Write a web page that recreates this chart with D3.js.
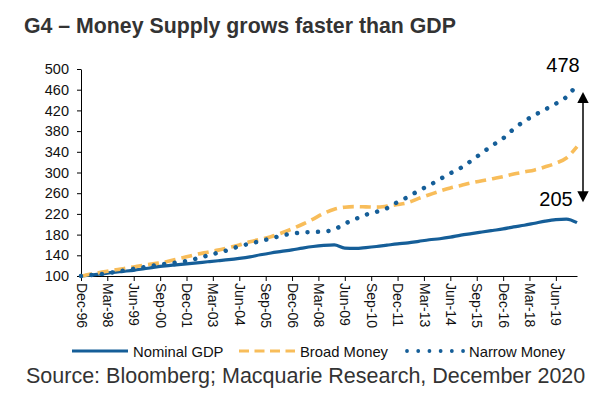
<!DOCTYPE html>
<html>
<head>
<meta charset="utf-8">
<script src="https://cdn.jsdelivr.net/npm/d3@7"></script>
<style>
  body { margin: 0; background: #fff; }
  svg { display: block; font-family: "Liberation Sans", Arial, sans-serif; }
</style>
</head>
<body>
<div id="chart"></div>
<script>
const width = 601;
const height = 399;

// half-yearly points, Dec-96 .. Jun-20 (index, Dec-96 = 100)
const periods = d3.timeMonths(new Date(1996, 11, 1), new Date(2020, 6, 1), 6);

const nominalGdp = [100, 102, 104, 107, 109, 111, 114, 117, 119.5, 121.5, 123.5, 125.5,
    127.5, 129.5, 131.5, 134, 137, 141, 144.5, 147.5, 150.5, 154, 157, 159,
    160, 154, 153.5, 155, 157, 159.5, 162, 164, 167, 170, 172, 175,
    179, 182, 185, 188, 191, 195, 198, 202, 206, 209, 210, 203];

const broadMoney = [100, 104, 107.5, 111, 114, 117.5, 121, 124, 127, 132, 137, 142,
    146, 150, 155, 160, 166, 171, 176, 183, 191, 200, 210, 221,
    229, 233, 234, 233.5, 233, 235, 238, 242, 250, 257, 264, 270,
    275, 280, 284, 288, 292, 297, 301, 305, 311, 318, 328, 350];

const narrowMoney = [100, 102, 104, 107, 110.5, 114, 117, 120.5, 123.5, 126, 129, 134,
    139.5, 145, 150.5, 157.5, 162.5, 167.5, 172.5, 178, 182, 184, 185, 186,
    190, 201, 210, 218.5, 224, 231, 243, 253, 265, 275, 287, 298.5,
    309, 323, 338, 352.5, 366, 384, 399, 411, 422, 433, 446, 470];

const yTicks = [100, 140, 180, 220, 260, 300, 340, 380, 420, 460, 500];
const xTickLabels = ["Dec-96", "Mar-98", "Jun-99", "Sep-00", "Dec-01", "Mar-03", "Jun-04",
    "Sep-05", "Dec-06", "Mar-08", "Jun-09", "Sep-10", "Dec-11", "Mar-13", "Jun-14",
    "Sep-15", "Dec-16", "Mar-18", "Jun-19"];
const endLabels = ["478", "205"];

const blue = "#155e98";
const orange = "#f8bd5a";

const svg = d3.select("#chart")
    .append("svg")
    .attr("width", width)
    .attr("height", height);

svg.append("rect").attr("width", width).attr("height", height).attr("fill", "#fff");

const x = d3.scaleTime()
    .domain([periods[0], periods[periods.length - 1]])
    .range([81, 577]);

const y = d3.scaleLinear()
    .domain([100, 500])
    .range([276, 69]);

// title
svg.append("text")
    .attr("x", 24)
    .attr("y", 33)
    .attr("font-size", 21.3)
    .attr("font-weight", "bold")
    .attr("fill", "#333")
    .text("G4 \u2013 Money Supply grows faster than GDP");

// y axis
const yAxis = svg.append("g")
    .attr("transform", "translate(81,0)")
    .call(d3.axisLeft(y).tickValues(yTicks).tickSize(4).tickSizeOuter(0).tickPadding(8));
yAxis.selectAll("text").attr("font-size", 14.5).attr("fill", "#111").attr("font-family", null);
yAxis.selectAll("line, path").attr("stroke", "#000");

// x axis
const parseTick = d3.timeParse("%b-%y");
const xAxis = svg.append("g")
    .attr("transform", "translate(0,276)")
    .call(d3.axisBottom(x)
        .tickValues(xTickLabels.map(parseTick))
        .tickFormat(d3.timeFormat("%b-%y"))
        .tickSize(5)
        .tickSizeOuter(0));
xAxis.selectAll("line, path").attr("stroke", "#000");
xAxis.selectAll("text")
    .attr("font-size", 14)
    .attr("fill", "#111")
    .attr("font-family", null)
    .attr("text-anchor", "start")
    .attr("transform", "rotate(90)")
    .attr("x", 7)
    .attr("y", 0)
    .attr("dy", "0.35em");

// lines
const line = values => d3.line()
    .x((d, i) => x(periods[i]))
    .y(d => y(d))
    .curve(d3.curveMonotoneX)(values);

svg.append("path")
    .attr("d", line(nominalGdp))
    .attr("fill", "none")
    .attr("stroke", blue)
    .attr("stroke-width", 3.2);

svg.append("path")
    .attr("d", line(broadMoney))
    .attr("fill", "none")
    .attr("stroke", orange)
    .attr("stroke-width", 3.6)
    .attr("stroke-dasharray", "11 6");

svg.append("path")
    .attr("d", line(narrowMoney))
    .attr("fill", "none")
    .attr("stroke", blue)
    .attr("stroke-width", 4.5)
    .attr("stroke-linecap", "round")
    .attr("stroke-dasharray", "0.01 10.5");

// end labels and double arrow
const last = periods.length - 1;
const xEnd = x(periods[last]);
svg.append("text")
    .attr("x", xEnd - 14)
    .attr("y", y(narrowMoney[last]) - 13)
    .attr("text-anchor", "middle")
    .attr("font-size", 20)
    .attr("fill", "#000")
    .text(endLabels[0]);
svg.append("text")
    .attr("x", xEnd - 21)
    .attr("y", y(nominalGdp[last]) - 16.5)
    .attr("text-anchor", "middle")
    .attr("font-size", 20)
    .attr("fill", "#000")
    .text(endLabels[1]);

const ax = xEnd + 6;
const aTop = y(narrowMoney[last]) + 7.5;
const aBot = y(nominalGdp[last]) - 20.5;
svg.append("line")
    .attr("x1", ax).attr("x2", ax)
    .attr("y1", aTop + 8).attr("y2", aBot - 8)
    .attr("stroke", "#000")
    .attr("stroke-width", 1.5);
svg.append("path")
    .attr("d", `M${ax},${aTop} L${ax - 5.7},${aTop + 11} L${ax + 5.7},${aTop + 11} Z`)
    .attr("fill", "#000");
svg.append("path")
    .attr("d", `M${ax},${aBot} L${ax - 5.7},${aBot - 11} L${ax + 5.7},${aBot - 11} Z`)
    .attr("fill", "#000");

// legend
const legend = [
    { name: "Nominal GDP", x: 72, w: 56, color: blue, width: 2.8, dash: null, cap: "butt" },
    { name: "Broad Money", x: 239, w: 56, color: orange, width: 3.2, dash: "10 5.5", cap: "butt" },
    { name: "Narrow Money", x: 407, w: 57, color: blue, width: 3.8, dash: "0.01 11.2", cap: "round" }
];
const lg = svg.append("g").attr("transform", "translate(0,351)");
legend.forEach(d => {
    lg.append("line")
        .attr("x1", d.x).attr("x2", d.x + d.w)
        .attr("y1", 0).attr("y2", 0)
        .attr("stroke", d.color)
        .attr("stroke-width", d.width)
        .attr("stroke-linecap", d.cap)
        .attr("stroke-dasharray", d.dash);
    lg.append("text")
        .attr("x", d.x + d.w + 5)
        .attr("y", 6)
        .attr("font-size", 14.8)
        .attr("fill", "#111")
        .text(d.name);
});

// source
svg.append("text")
    .attr("x", 26)
    .attr("y", 383)
    .attr("font-size", 21.5)
    .attr("fill", "#333")
    .text("Source: Bloomberg; Macquarie Research, December 2020");
</script>
</body>
</html>
